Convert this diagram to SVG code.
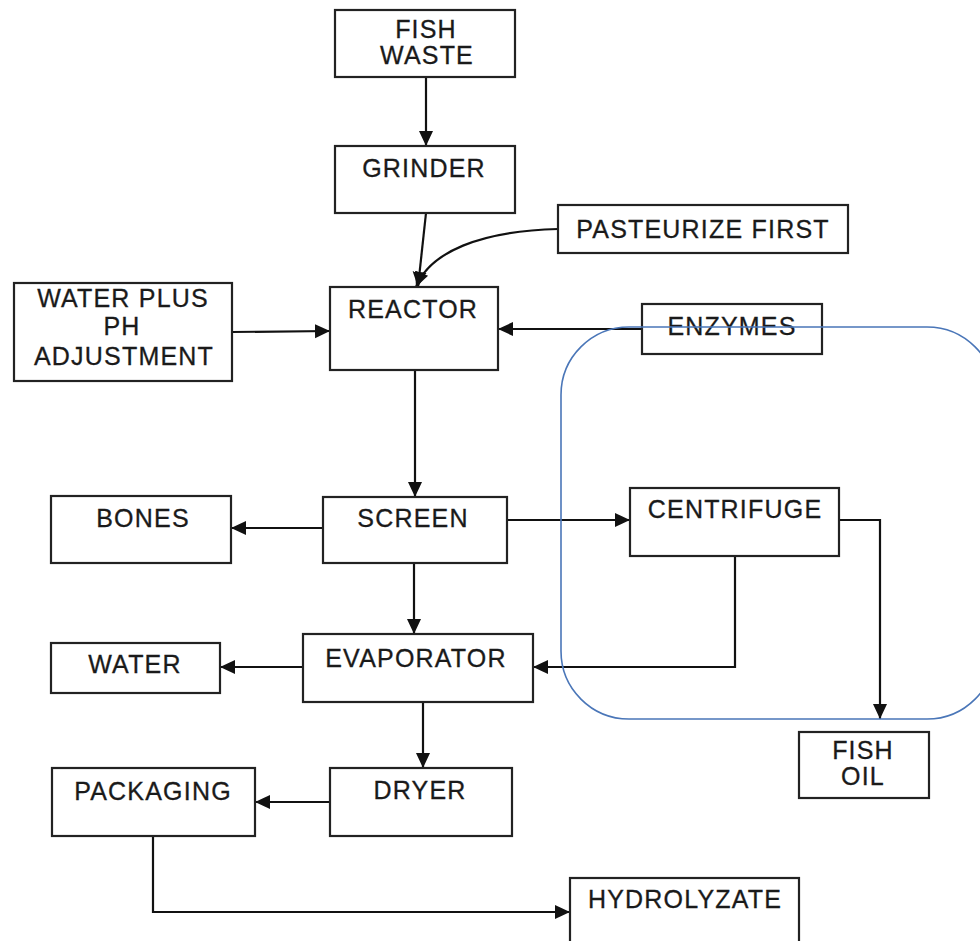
<svg xmlns="http://www.w3.org/2000/svg" width="980" height="941" viewBox="0 0 980 941">
  <style>
    .box { fill: #fff; stroke: #222; stroke-width: 2.2; }
    .lbl { font-family: "Liberation Sans", Arial, sans-serif; font-size: 25px; letter-spacing: 1.2px; fill: #1a1a1a; stroke: #1a1a1a; stroke-width: 0.3; text-anchor: middle; }
    .edge { fill: none; stroke: #111; stroke-width: 2.2; }
    .group { fill: none; stroke: #4a76b8; stroke-width: 1.6; }
  </style>
  <defs>
    <marker id="arrow" markerUnits="userSpaceOnUse" markerWidth="16" markerHeight="16" refX="15" refY="8" orient="auto">
      <path d="M0,1 L15,8 L0,15 Z" fill="#111"/>
    </marker>
  </defs>
  <rect width="980" height="941" fill="#fff"/>

  <!-- process connectors -->
  <g id="connectors">
    <path class="edge" d="M426,77 L426,146" marker-end="url(#arrow)"/>
    <path class="edge" d="M426,213 L418,287" marker-end="url(#arrow)"/>
    <path class="edge" d="M558,229 C480,231 430,252 416,287" marker-end="url(#arrow)"/>
    <path class="edge" d="M232,332 L330,331" marker-end="url(#arrow)"/>
    <path class="edge" d="M642,329 L498,329" marker-end="url(#arrow)"/>
    <path class="edge" d="M415,370 L415,497" marker-end="url(#arrow)"/>
    <path class="edge" d="M323,528 L231,528" marker-end="url(#arrow)"/>
    <path class="edge" d="M507,520 L630,520" marker-end="url(#arrow)"/>
    <path class="edge" d="M414,563 L414,634" marker-end="url(#arrow)"/>
    <path class="edge" d="M735,556 L735,667 L533,667" marker-end="url(#arrow)"/>
    <path class="edge" d="M839,520 L880,520 L880,719" marker-end="url(#arrow)"/>
    <path class="edge" d="M303,667 L220,667" marker-end="url(#arrow)"/>
    <path class="edge" d="M423,702 L423,768" marker-end="url(#arrow)"/>
    <path class="edge" d="M330,802 L255,802" marker-end="url(#arrow)"/>
    <path class="edge" d="M153,836 L153,912 L570,912" marker-end="url(#arrow)"/>
  </g>

  <g id="fish-waste">
    <rect class="box" x="335" y="10" width="180" height="67"/>
    <text class="lbl" x="426" y="38">FISH</text>
    <text class="lbl" x="427" y="64">WASTE</text>
  </g>
  <g id="grinder">
    <rect class="box" x="335" y="146" width="180" height="67"/>
    <text class="lbl" x="424" y="177">GRINDER</text>
  </g>
  <g id="pasteurize-first">
    <rect class="box" x="558" y="205" width="290" height="48"/>
    <text class="lbl" x="703" y="238">PASTEURIZE FIRST</text>
  </g>
  <g id="water-ph">
    <rect class="box" x="14" y="283" width="218" height="98"/>
    <text class="lbl" x="123" y="307">WATER PLUS</text>
    <text class="lbl" x="122" y="335">PH</text>
    <text class="lbl" x="124" y="365">ADJUSTMENT</text>
  </g>
  <g id="reactor">
    <rect class="box" x="330" y="287" width="168" height="83"/>
    <text class="lbl" x="413" y="318">REACTOR</text>
  </g>
  <g id="enzymes">
    <rect class="box" x="642" y="304" width="180" height="50"/>
    <text class="lbl" x="732" y="335">ENZYMES</text>
  </g>
  <g id="bones">
    <rect class="box" x="51" y="496" width="180" height="67"/>
    <text class="lbl" x="143" y="527">BONES</text>
  </g>
  <g id="screen">
    <rect class="box" x="323" y="497" width="184" height="66"/>
    <text class="lbl" x="413" y="527">SCREEN</text>
  </g>
  <g id="centrifuge">
    <rect class="box" x="630" y="488" width="209" height="68"/>
    <text class="lbl" x="735" y="518">CENTRIFUGE</text>
  </g>
  <g id="water">
    <rect class="box" x="51" y="643" width="169" height="50"/>
    <text class="lbl" x="135" y="673">WATER</text>
  </g>
  <g id="evaporator">
    <rect class="box" x="303" y="634" width="230" height="68"/>
    <text class="lbl" x="416" y="667">EVAPORATOR</text>
  </g>
  <g id="fish-oil">
    <rect class="box" x="799" y="732" width="130" height="66"/>
    <text class="lbl" x="863" y="759">FISH</text>
    <text class="lbl" x="863" y="785">OIL</text>
  </g>
  <g id="packaging">
    <rect class="box" x="52" y="768" width="203" height="68"/>
    <text class="lbl" x="153" y="800">PACKAGING</text>
  </g>
  <g id="dryer">
    <rect class="box" x="330" y="768" width="182" height="68"/>
    <text class="lbl" x="420" y="799">DRYER</text>
  </g>
  <g id="hydrolyzate">
    <rect class="box" x="570" y="878" width="229" height="80"/>
    <text class="lbl" x="685" y="908">HYDROLYZATE</text>
  </g>

  <!-- separation stage outline -->
  <g id="separation-group">
    <rect class="group" x="561" y="327" width="434" height="392" rx="68" ry="68"/>
  </g>
</svg>
